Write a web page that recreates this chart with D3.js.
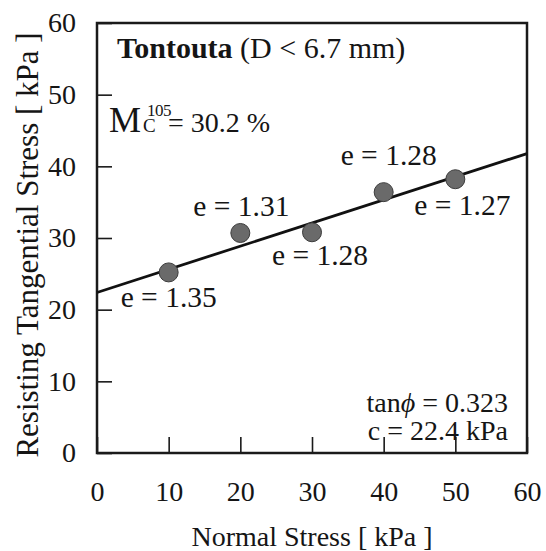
<!DOCTYPE html>
<html>
<head>
<meta charset="utf-8">
<script src="https://cdn.jsdelivr.net/npm/d3@7"></script>
<style>
  body { margin: 0; background: #fff; }
  text { font-family: "Times New Roman", "Liberation Serif", serif; fill: #151515; }
</style>
</head>
<body>
<svg id="chart" width="546" height="551"></svg>
<script>
// measured points: normal stress vs resisting tangential stress
const normalStress = [10, 20, 30, 40, 50];
const tangentialStress = [25.2, 30.7, 30.8, 36.4, 38.2];
const voidRatio = ['e = 1.35', 'e = 1.31', 'e = 1.28', 'e = 1.28', 'e = 1.27'];
// where each label sits relative to its point (dx, dy in px)
const labelOffset = [[-48, 35], [-47, -17], [-40, 33], [-43, -27], [-41, 36]];
const xTicks = [0, 10, 20, 30, 40, 50, 60];
const yTicks = [0, 10, 20, 30, 40, 50, 60];
const cohesion = 22.4;
const tanPhi = 0.323;

const svg = d3.select('#chart');
const margin = {left: 97, right: 19, top: 23, bottom: 98};
const W = 546, H = 551;

const x = d3.scaleLinear().domain([0, 60]).range([margin.left, W - margin.right]);
const y = d3.scaleLinear().domain([0, 60]).range([H - margin.bottom, margin.top]);

// axes, ticks inward
const xAxis = d3.axisBottom(x).tickValues(xTicks).tickSizeInner(-16).tickSizeOuter(0).tickPadding(28);
const yAxis = d3.axisLeft(y).tickValues(yTicks).tickSizeInner(-15).tickSizeOuter(0).tickPadding(21);

const gx = svg.append('g').attr('transform', 'translate(0,' + y(0) + ')').call(xAxis);
const gy = svg.append('g').attr('transform', 'translate(' + x(0) + ',0)').call(yAxis);
[gx, gy].forEach(function(g) {
    g.select('.domain').remove();
    g.selectAll('line').attr('stroke', '#1a1a1a').attr('stroke-width', 1.6);
    g.selectAll('text').style('font-size', '28px').attr('fill', '#151515');
});

// frame
svg.append('rect')
    .attr('x', x(0)).attr('y', y(60))
    .attr('width', x(60) - x(0)).attr('height', y(0) - y(60))
    .attr('fill', 'none').attr('stroke', '#1a1a1a').attr('stroke-width', 2.5);

// fitted line
svg.append('line')
    .attr('x1', x(0)).attr('y1', y(cohesion))
    .attr('x2', x(60)).attr('y2', y(cohesion + tanPhi * 60))
    .attr('stroke', '#111').attr('stroke-width', 2.8);

// points
svg.append('g')
    .selectAll('circle')
    .data(normalStress)
    .enter().append('circle')
    .attr('cx', function(d) { return x(d); })
    .attr('cy', function(d, i) { return y(tangentialStress[i]); })
    .attr('r', 9.5)
    .attr('fill', '#6a6a6a')
    .attr('stroke', '#3c3c3c')
    .attr('stroke-width', 1);

// e labels
svg.append('g')
    .selectAll('text')
    .data(voidRatio)
    .enter().append('text')
    .attr('x', function(d, i) { return x(normalStress[i]) + labelOffset[i][0]; })
    .attr('y', function(d, i) { return y(tangentialStress[i]) + labelOffset[i][1]; })
    .style('font-size', '29.5px')
    .text(function(d) { return d; });

// title
const title = svg.append('text').attr('x', 117).attr('y', 58).style('font-size', '30px');
title.append('tspan').style('font-weight', 'bold').text('Tontouta');
title.append('tspan').text(' (D < 6.7 mm)');

// moisture content
svg.append('text').attr('x', 109).attr('y', 132).style('font-size', '36px').text('M');
svg.append('text').attr('x', 143).attr('y', 132).style('font-size', '19px').text('C');
svg.append('text').attr('x', 147).attr('y', 116).style('font-size', '17px').style('letter-spacing', '-0.5px').text('105');
svg.append('text').attr('x', 168).attr('y', 132).style('font-size', '28px').text('= 30.2 %');

// strength parameters
const tp = svg.append('text').attr('x', 508).attr('y', 412).attr('text-anchor', 'end').style('font-size', '28px');
tp.append('tspan').text('tan');
tp.append('tspan').style('font-style', 'italic').text('\u03d5');
tp.append('tspan').text(' = ' + tanPhi.toFixed(3));
svg.append('text').attr('x', 508).attr('y', 440).attr('text-anchor', 'end')
    .style('font-size', '28px').text('c = ' + cohesion + ' kPa');

// axis titles
svg.append('text').attr('x', x(30)).attr('y', 546).attr('text-anchor', 'middle')
    .style('font-size', '28px').text('Normal Stress [ kPa ]');
svg.append('text').attr('transform', 'translate(38,' + 245 + ') rotate(-90)')
    .attr('text-anchor', 'middle').style('font-size', '31px')
    .text('Resisting Tangential Stress [ kPa ]');
</script>
</body>
</html>
